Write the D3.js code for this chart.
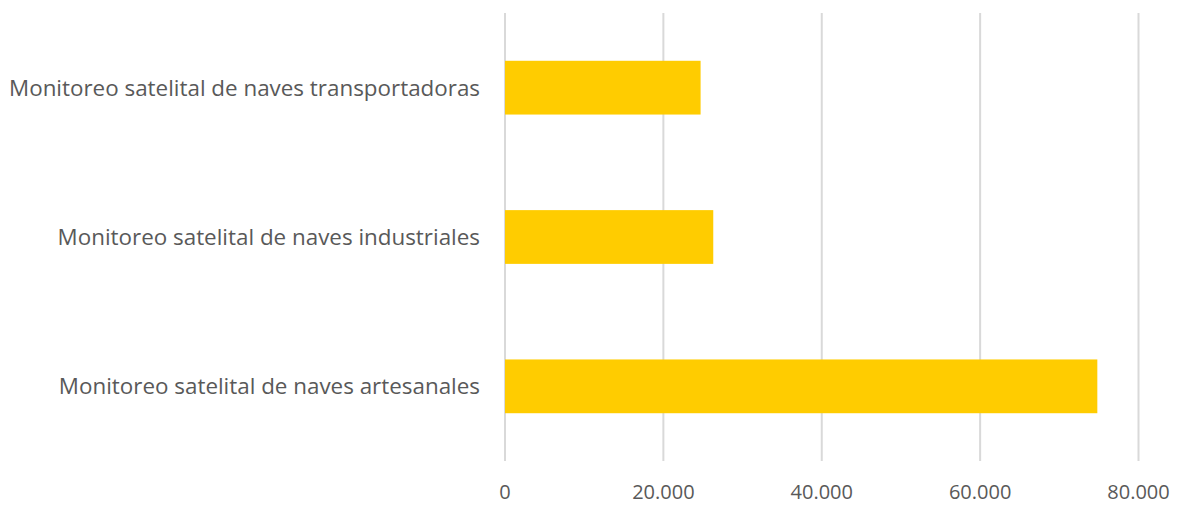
<!DOCTYPE html>
<html>
<head>
<meta charset="utf-8">
<script src="https://cdn.jsdelivr.net/npm/d3@7"></script>
<style>
  body { margin: 0; background: #fff; }
  text { font-family: 'Open Sans', sans-serif; fill: #595959; }
</style>
</head>
<body>
<div id="chart"></div>
<script>
// datos del gráfico
const categories = [
  'Monitoreo satelital de naves transportadoras',
  'Monitoreo satelital de naves industriales',
  'Monitoreo satelital de naves artesanales'
]
const values = [24700, 26300, 74800]
const ticks = [0, 20000, 40000, 60000, 80000]

const width = 1178
const height = 506
const plotLeft = 505
const plotRight = 1138.5
const plotTop = 13
const plotBottom = 461

const svg = d3.select('#chart')
  .append('svg')
  .attr('width', width)
  .attr('height', height)

const x = d3.scaleLinear()
  .domain([0, 80000])
  .range([plotLeft, plotRight])

const y = d3.scaleBand()
  .domain(categories)
  .range([plotTop, plotBottom])
  .paddingInner(0.64)
  .paddingOuter(0.32)

const fmt = d3.formatLocale({ decimal: ',', thousands: '.', grouping: [3], currency: ['', ''] }).format(',')

// líneas de cuadrícula
svg.append('g')
  .selectAll('line')
  .data(ticks)
  .enter()
  .append('line')
  .attr('x1', d => x(d))
  .attr('x2', d => x(d))
  .attr('y1', plotTop)
  .attr('y2', plotBottom)
  .style('stroke', '#d9d9d9')
  .style('stroke-width', 2)

// etiquetas del eje x
svg.append('g')
  .selectAll('text')
  .data(ticks)
  .enter()
  .append('text')
  .attr('x', d => x(d))
  .attr('y', 499)
  .attr('text-anchor', 'middle')
  .style('font-size', '20px')
  .text(d => fmt(d))

// barras
svg.append('g')
  .selectAll('rect')
  .data(values)
  .enter()
  .append('rect')
  .attr('x', x(0))
  .attr('y', (d, i) => y(categories[i]))
  .attr('width', d => x(d) - x(0))
  .attr('height', y.bandwidth())
  .style('fill', '#ffcc00')

// etiquetas de categoría
svg.append('g')
  .selectAll('text')
  .data(categories)
  .enter()
  .append('text')
  .attr('x', plotLeft - 25)
  .attr('y', d => y(d) + y.bandwidth() / 2)
  .attr('dy', '0.35em')
  .attr('text-anchor', 'end')
  .style('font-size', '22.4px')
  .text(d => d)
</script>
</body>
</html>
